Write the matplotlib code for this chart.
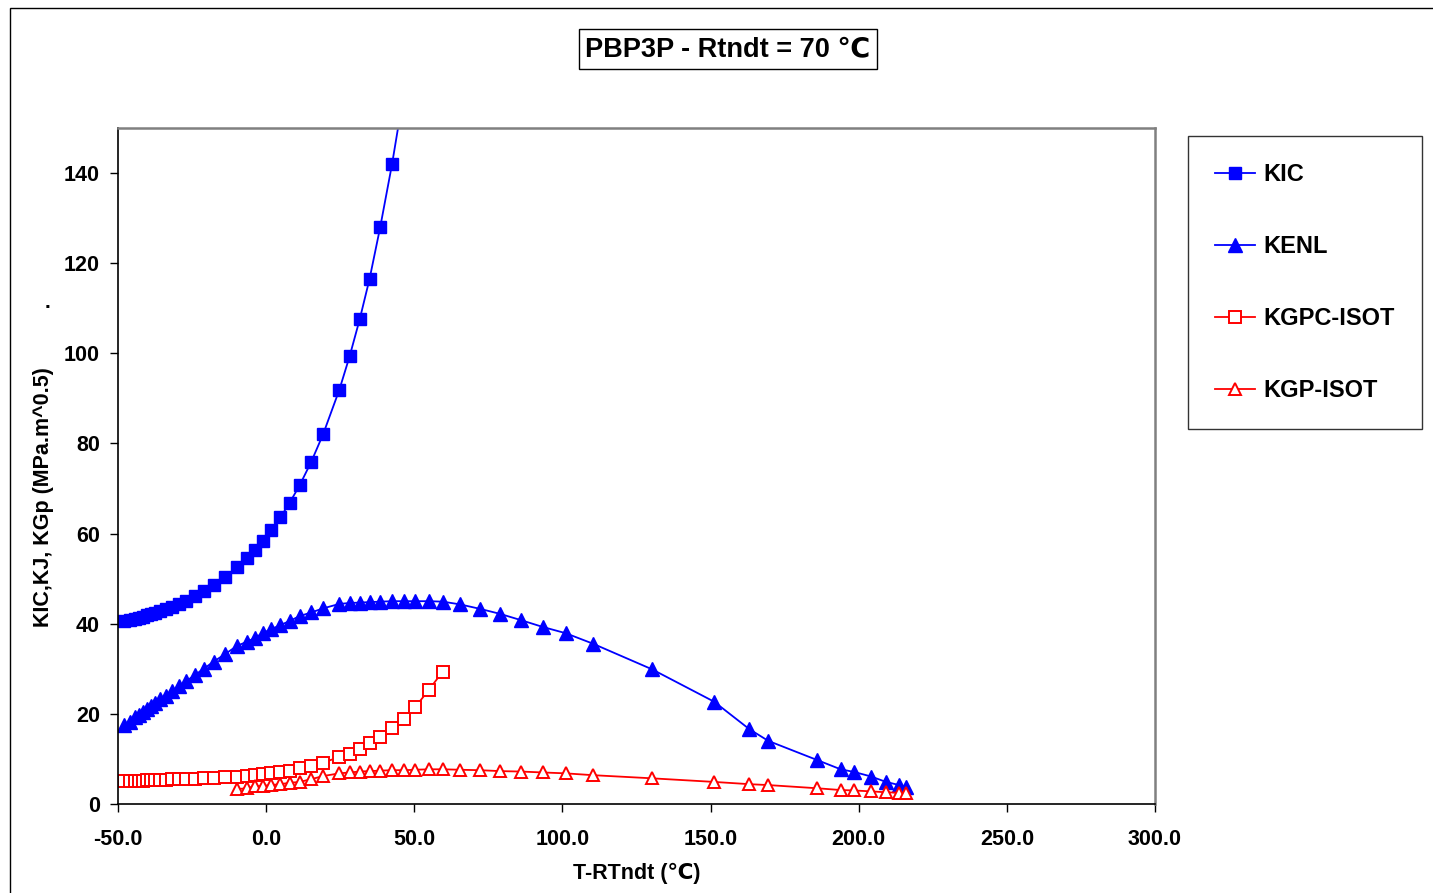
import numpy as np
import matplotlib
matplotlib.use('Agg')
import matplotlib.pyplot as plt
from matplotlib.patches import Rectangle

plt.rcParams['font.family'] = ['Liberation Sans', 'DejaVu Sans']
plt.rcParams['font.weight'] = 'bold'

# T-RTndt values (deg C) for the square series
T = [-48.0, -46.0, -44.4, -43.0, -41.6, -40.2, -38.8, -37.4, -35.7, -33.8,
     -31.8, -29.5, -27.1, -24.1, -21.1, -17.7, -14.0, -9.8, -6.5, -3.9,
     -1.2, 1.7, 4.8, 7.9, 11.3, 15.2, 19.2, 24.7, 28.2, 31.6,
     34.9, 38.5, 42.5, 46.4, 50.3, 54.9, 59.6]
# further points of the triangle series
T_ext = [65.4, 72.2, 78.9, 86.0, 93.3, 101.1, 110.2, 130.2, 151.2, 163.1,
         169.5, 185.8, 193.9, 198.5, 204.2, 209.2, 213.7, 215.9]

KIC = [40.5, 40.9, 41.1, 41.3, 41.6, 41.9, 42.1, 42.4, 42.8, 43.2,
       43.8, 44.4, 45.1, 46.1, 47.2, 48.5, 50.3, 52.5, 54.5, 56.3,
       58.3, 60.7, 63.6, 66.8, 70.7, 75.9, 82.0, 91.9, 99.4, 107.6,
       116.5, 128.0, 142.0, 157.5, 176.0, 200.8, 231.3]

KENL = [17.5, 18.3, 19.2, 19.8, 20.5, 21.1, 21.7, 22.4, 23.2, 24.0,
        25.0, 26.1, 27.2, 28.6, 30.0, 31.6, 33.2, 35.1, 36.0, 36.8,
        37.9, 38.8, 39.7, 40.6, 41.7, 42.5, 43.4, 44.4, 44.6, 44.7,
        44.8, 44.9, 45.0, 45.0, 45.0, 45.0, 44.9,
        44.3, 43.3, 42.2, 40.8, 39.3, 37.9, 35.6, 29.9, 22.7, 16.6,
        14.0, 9.8, 7.7, 7.1, 6.1, 4.9, 4.2, 3.8]

KGPC = [5.2, 5.2, 5.2, 5.2, 5.2, 5.3, 5.3, 5.3, 5.4, 5.4,
        5.5, 5.5, 5.6, 5.6, 5.7, 5.8, 6.0, 6.1, 6.2, 6.4,
        6.7, 6.8, 7.2, 7.4, 7.9, 8.4, 9.2, 10.4, 11.2, 12.2,
        13.5, 14.9, 16.8, 18.9, 21.5, 25.3, 29.4]

KGP = [3.3, 3.5, 3.9, 4.0, 4.2, 4.4, 4.7, 4.9, 5.5, 6.2,
       6.8, 7.0, 7.2, 7.3, 7.4, 7.5, 7.5, 7.6, 7.7, 7.7,
       7.6, 7.5, 7.3, 7.2, 7.0, 6.8, 6.4, 5.7, 4.9, 4.4,
       4.2, 3.5, 3.1, 3.0, 2.8, 2.6, 2.5, 2.4]

W, H = 1433, 893
fig = plt.figure(figsize=(W / 100, H / 100), dpi=100)
ax = fig.add_axes([118 / W, 1 - 804 / H, 1037 / W, 676 / H])

T_tri = T + T_ext
ax.plot(T, KIC, color='#0000FF', lw=1.3, marker='s', ms=8.5, mec='#0000FF', mfc='#0000FF', label='KIC')
ax.plot(T_tri, KENL, color='#0000FF', lw=1.3, marker='^', ms=9.5, mec='#0000FF', mfc='#0000FF', label='KENL')
ax.plot(T, KGPC, color='#FF0000', lw=1.3, marker='s', ms=8, mec='#FF0000', mfc='white', mew=1.4, label='KGPC-ISOT')
ax.plot(T_tri[17:], KGP, color='#FF0000', lw=1.3, marker='^', ms=9, mec='#FF0000', mfc='white', mew=1.4, label='KGP-ISOT')

ax.set_xlim(-50, 300)
ax.set_ylim(0, 150)
ax.set_xticks(np.arange(-50, 301, 50))
ax.set_xticklabels(['%.1f' % v for v in np.arange(-50, 301, 50)])
ax.set_yticks(np.arange(0, 141, 20))
ax.tick_params(direction='out', length=6, width=1, labelsize=15.5)
ax.tick_params(axis='x', pad=12)
ax.tick_params(axis='y', pad=7)
for lab in ax.get_xticklabels() + ax.get_yticklabels():
    lab.set_fontweight('bold')
for s in ['top', 'right']:
    ax.spines[s].set_color('#808080')
    ax.spines[s].set_linewidth(1.8)
for s in ['left', 'bottom']:
    ax.spines[s].set_color('black')
    ax.spines[s].set_linewidth(1.2)

ax.set_xlabel('T-RTndt (℃)', fontsize=15.5, fontweight='bold', labelpad=9)
ax.set_ylabel('KIC,KJ, KGp (MPa.m^0.5)', fontsize=15.5, fontweight='bold')
ax.yaxis.set_label_coords((54 - 118) / 1037, (804 - 497) / 676)
fig.text(48 / W, 1 - 303 / H, '.', fontsize=15, fontweight='bold', ha='center', va='center')

fig.text(728 / W, 1 - 49 / H, 'PBP3P - Rtndt = 70 ℃', fontsize=19.5, fontweight='bold',
         ha='center', va='center',
         bbox=dict(boxstyle='square,pad=0.25', fc='white', ec='black', lw=1))

leg = ax.legend(loc='upper left', bbox_to_anchor=(1188 / W, 1 - 136 / H),
                bbox_transform=fig.transFigure, borderaxespad=0, fontsize=17,
                labelspacing=2.07, handlelength=1.7, handletextpad=0.35, borderpad=1.15,
                frameon=True, fancybox=False, edgecolor='black', markerscale=1.0)
leg.get_frame().set_linewidth(1)
for t in leg.get_texts():
    t.set_fontweight('bold')

# outer chart border
fig.add_artist(Rectangle((10 / W, -0.05), 1.1, 1 - 8 / H + 0.05, transform=fig.transFigure,
                         fill=False, ec='black', lw=1))

fig.savefig('out.png', dpi=100)
